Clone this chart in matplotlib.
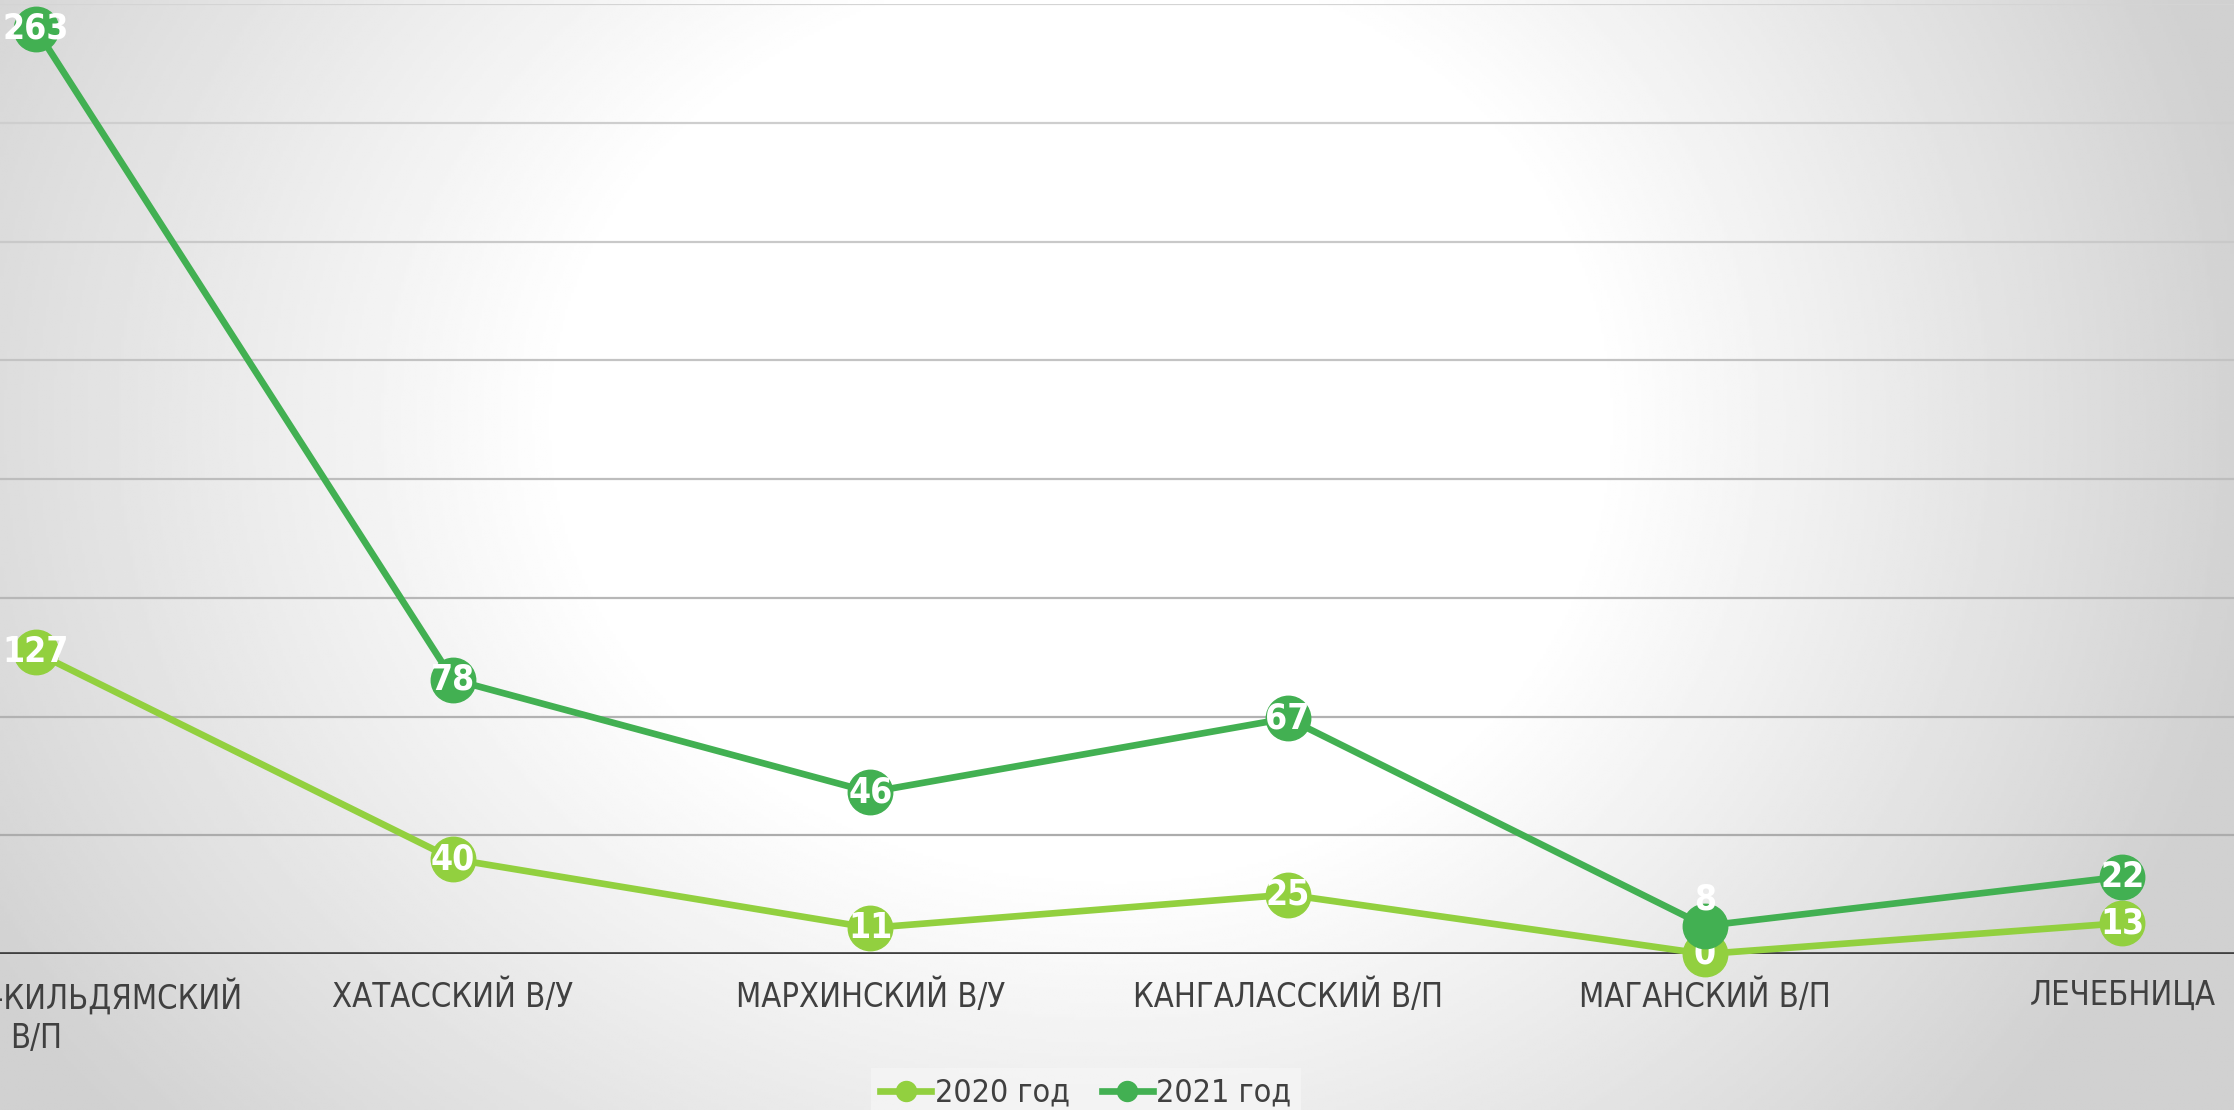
import matplotlib.pyplot as plt
import numpy as np
from matplotlib import font_manager
from matplotlib.font_manager import FontProperties
from matplotlib.colors import to_rgb

categories = ["ТУЛАГИНО-КИЛЬДЯМСКИЙ\nВ/П", "ХАТАССКИЙ В/У", "МАРХИНСКИЙ В/У",
              "КАНГАЛАССКИЙ В/П", "МАГАНСКИЙ В/П", "ЛЕЧЕБНИЦА"]
values_2020 = [127, 40, 11, 25, 0, 13]
values_2021 = [263, 78, 46, 67, 8, 22]
series_names = ["2020 год", "2021 год"]

color_2020 = "#92d03f"
color_2021 = "#42b052"
text_color = "#404040"


def find_narrow(bold=False):
    # look for an installed condensed / narrow sans face
    found = []
    for f in font_manager.fontManager.ttflist:
        key = (f.name + " " + f.fname).lower()
        narrow = ("narrow" in key or "condensed" in key
                  or str(f.stretch) in ("condensed", "semi-condensed", "extra-condensed"))
        if not narrow or "italic" in key or f.style != "normal":
            continue
        if "extra" in key or "ultra" in key or "semi" in key:
            continue
        w = f.weight if isinstance(f.weight, int) else 400
        if bold and w < 600:
            continue
        if not bold and w != 400:
            continue
        found.append(f.fname)
    return FontProperties(fname=sorted(found)[0]) if found else None


narrow_reg = find_narrow()
narrow_bold = find_narrow(bold=True) or narrow_reg
has_narrow = narrow_reg is not None

W, H = 2234, 1110
fig = plt.figure(figsize=(W / 100, H / 100), dpi=100)

# soft grey background that fades to white in the middle
bg = fig.add_axes([0, 0, 1, 1], zorder=-10)
yy, xx = np.mgrid[0:1:400j, 0:1:800j]
cx, cy = 0.5, 0.38
rx = np.where(xx < cx, 0.55, 0.48)
r = np.sqrt(((xx - cx) / rx) ** 2 + ((yy - cy) / 0.9) ** 2)
shade = 1.0 - 0.18 * np.clip((r - 0.45) / 0.62, 0, 1)
bg.imshow(shade, cmap="gray", vmin=0, vmax=1, aspect="auto", extent=[0, 1, 1, 0])
bg.axis("off")

left = -173 / W
width = 2504 / W
bottom = (H - 954) / H
height = 950 / H
ax = fig.add_axes([left, bottom, width, height])
ax.set_facecolor("none")
ax2 = ax.twinx()

x = np.arange(len(categories))
ax.set_xlim(-0.5, len(categories) - 0.5)
ax.set_ylim(0, 400)
ax2.set_ylim(0, 270)

# gridlines, lighter towards the top
grid_vals = np.arange(50, 401, 50)
c_top, c_bot = np.array(to_rgb("#d4d4d4")), np.array(to_rgb("#a6a6a6"))
for gv in grid_vals:
    t = gv / 400
    ax.axhline(gv, color=tuple(c_bot + (c_top - c_bot) * t), linewidth=1.6, zorder=1)

for a in (ax, ax2):
    for s in ("left", "right", "top", "bottom"):
        a.spines[s].set_visible(False)
    a.tick_params(axis="y", length=0, labelleft=False, labelright=False)
    a.set_yticks([])
ax.axhline(0, color=text_color, linewidth=3.4, zorder=3)

ax.set_xticks(x)
if has_narrow:
    ax.set_xticklabels(categories, fontproperties=narrow_reg, fontsize=23.5,
                       color=text_color, linespacing=1.25)
else:
    ax.set_xticklabels(categories, fontsize=20, color=text_color, linespacing=1.3)
ax.tick_params(axis="x", length=0, pad=18)
ax2.tick_params(axis="x", length=0, labelbottom=False)

l1, = ax.plot(x, values_2020, color=color_2020, linewidth=4.8, marker="o",
              markersize=32, clip_on=False, zorder=4, label=series_names[0])
l2, = ax2.plot(x, values_2021, color=color_2021, linewidth=4.8, marker="o",
               markersize=32, clip_on=False, zorder=4, label=series_names[1])

lbl_kw = dict(ha="center", va="center", color="white", zorder=6, annotation_clip=False)
if has_narrow:
    lbl_kw.update(fontproperties=narrow_bold, fontsize=25.5)
else:
    lbl_kw.update(fontsize=20, fontweight="bold")

fig.canvas.draw()
for xi, v in zip(x, values_2020):
    ax.annotate(str(v), (xi, v), **lbl_kw)
for xi, v, v0 in zip(x, values_2021, values_2020):
    p21 = ax2.transData.transform((xi, v))
    p20 = ax.transData.transform((xi, v0))
    dy = 19 if abs(p21[1] - p20[1]) < 30 else 0
    ax2.annotate(str(v), (xi, v), xytext=(0, dy), textcoords="offset points", **lbl_kw)

leg_kw = dict(loc="lower center", bbox_to_anchor=(0.486, -0.022), ncol=2,
              frameon=True, facecolor="#f6f6f6", edgecolor="none", framealpha=0.7,
              handlelength=1.6, columnspacing=1.0, handletextpad=0.1,
              borderpad=0.3, fancybox=False, markerscale=0.45)
if has_narrow:
    leg = fig.legend([l1, l2], series_names, prop=FontProperties(fname=narrow_reg.get_file(), size=23), **leg_kw)
else:
    leg = fig.legend([l1, l2], series_names, fontsize=20, **leg_kw)
for t in leg.get_texts():
    t.set_color(text_color)

fig.savefig("out.png", dpi=100)
